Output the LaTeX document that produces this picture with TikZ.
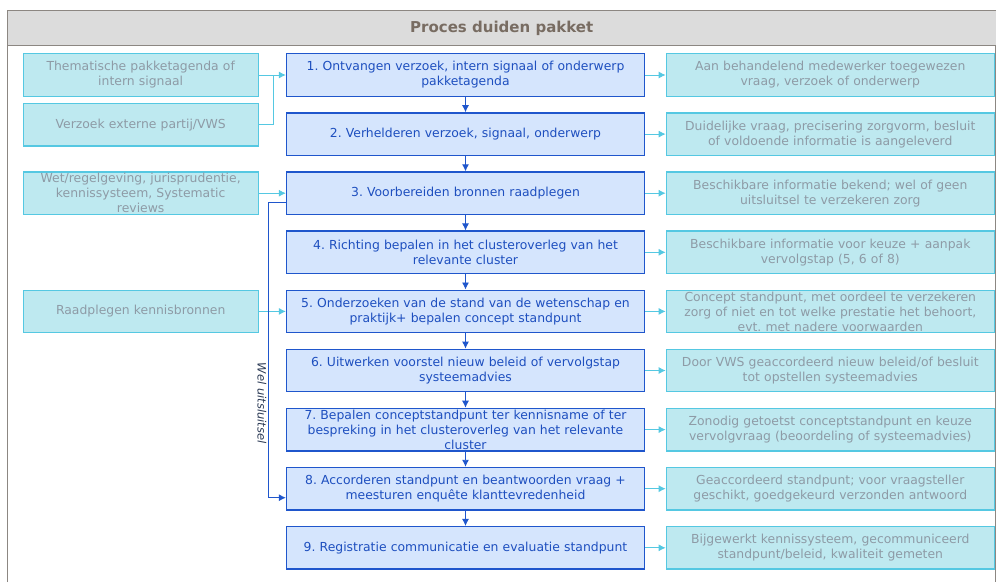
\documentclass[tikz,border=0pt]{standalone}
\usepackage{fontspec}
\setmainfont{DejaVu Sans}
\usetikzlibrary{arrows.meta,positioning}
\frenchspacing

\definecolor{stepfill}{HTML}{D5E5FD}
\definecolor{stepdraw}{HTML}{1F56CC}
\definecolor{steptext}{HTML}{1E4FBF}
\definecolor{infofill}{HTML}{BEE9F0}
\definecolor{infodraw}{HTML}{55C8E2}
\definecolor{infotext}{HTML}{8E9BA6}
\definecolor{barfill}{HTML}{DCDCDC}
\definecolor{bartext}{HTML}{786C62}
\definecolor{framegray}{HTML}{8C8782}
\definecolor{notetext}{HTML}{2B3A55}

\begin{document}
\begin{tikzpicture}[x=1pt, y=1pt, node distance=15.3pt, font=\fontsize{12.4}{15}\selectfont,
stage/.style={rectangle, draw=stepdraw, line width=1.3pt, fill=stepfill, text=steptext, minimum width=358pt, minimum height=42.5pt, inner ysep=0pt, text width=348pt, align=center},
source/.style={rectangle, draw=infodraw, line width=1.3pt, fill=infofill, text=infotext, minimum width=235pt, minimum height=42.5pt, inner ysep=0pt, text width=225pt, align=center},
result/.style={source, minimum width=328pt, text width=318pt},
line/.style={draw=stepdraw, line width=0.9pt, -{Latex[length=7pt,width=7pt]}},
feed/.style={draw=infodraw, line width=0.9pt, -{Latex[length=7pt,width=7pt]}}]

\useasboundingbox (0,0) rectangle (996,-582);

% Frame and title
\draw[framegray, line width=1pt] (7,-582) -- (7,-10) -- (995.5,-10) -- (995.5,-582);
\node[draw=framegray, line width=1pt, fill=barfill, text=bartext, anchor=north west, minimum width=988.5pt, minimum height=35pt, font=\fontsize{15}{18}\selectfont\bfseries] (title) at (7,-10) {Proces duiden pakket};

% Steps
\node[stage] (s1) at (465.5,-75) {1. Ontvangen verzoek, intern signaal of onderwerp\\pakketagenda};
\node[stage, below=of s1] (s2) {2. Verhelderen verzoek, signaal, onderwerp};
\node[stage, below=of s2] (s3) {3. Voorbereiden bronnen raadplegen};
\node[stage, below=of s3] (s4) {4. Richting bepalen in het clusteroverleg van het\\relevante cluster};
\node[stage, below=of s4] (s5) {5. Onderzoeken van de stand van de wetenschap en\\praktijk+ bepalen concept standpunt};
\node[stage, below=of s5] (s6) {6. Uitwerken voorstel nieuw beleid of vervolgstap\\systeemadvies};
\node[stage, below=of s6] (s7) {7. Bepalen conceptstandpunt ter kennisname of ter\\bespreking in het clusteroverleg van het relevante\\cluster};
\node[stage, below=of s7] (s8) {8. Accorderen standpunt en beantwoorden vraag +\\meesturen enquête klanttevredenheid};
\node[stage, below=of s8] (s9) {9. Registratie communicatie en evaluatie standpunt};

% Results
\node[result, right=20.5pt of s1] (r1) {Aan behandelend medewerker toegewezen\\vraag, verzoek of onderwerp};
\node[result, right=20.5pt of s2] (r2) {Duidelijke vraag, precisering zorgvorm, besluit\\of voldoende informatie is aangeleverd};
\node[result, right=20.5pt of s3] (r3) {Beschikbare informatie bekend; wel of geen\\uitsluitsel te verzekeren zorg};
\node[result, right=20.5pt of s4] (r4) {Beschikbare informatie voor keuze + aanpak\\vervolgstap (5, 6 of 8)};
\node[result, right=20.5pt of s5] (r5) {Concept standpunt, met oordeel te verzekeren\\zorg of niet en tot welke prestatie het behoort,\\evt. met nadere voorwaarden};
\node[result, right=20.5pt of s6] (r6) {Door VWS geaccordeerd nieuw beleid/of besluit\\tot opstellen systeemadvies};
\node[result, right=20.5pt of s7] (r7) {Zonodig getoetst conceptstandpunt en keuze\\vervolgvraag (beoordeling of systeemadvies)};
\node[result, right=20.5pt of s8] (r8) {Geaccordeerd standpunt; voor vraagsteller\\geschikt, goedgekeurd verzonden antwoord};
\node[result, right=20.5pt of s9] (r9) {Bijgewerkt kennissysteem, gecommuniceerd\\standpunt/beleid, kwaliteit gemeten};

% Sources
\node[source, left=27pt of s1] (i1) {Thematische pakketagenda of\\intern signaal};
\node[source, below=6pt of i1] (i2) {Verzoek externe partij/VWS};
\node[source, left=27pt of s3] (i3) {Wet/regelgeving, jurisprudentie,\\kennissysteem, Systematic\\reviews};
\node[source, left=27pt of s5] (i4) {Raadplegen kennisbronnen};

% Paths
\foreach \a/\b in {1/2,2/3,3/4,4/5,5/6,6/7,7/8,8/9}
  \path[line] (s\a) -- (s\b);
\foreach \n in {1,...,9}
  \path[feed] (s\n) -- (r\n);

\draw[infodraw, line width=0.9pt] (i1.east) -- ++(15pt,0) coordinate (join);
\path[feed] (i2.east) -| (join) -- (s1.west);
\path[feed] (i3) -- (s3);
\path[feed] (i4) -- (s5);

% Wel uitsluitsel loop
\path[line] ([yshift=-9pt]s3.west) -- ++(-17pt,0) |- ([yshift=-9pt]s8.west)
  node[pos=0.34, rotate=-90, anchor=north, inner sep=2pt, text=notetext, font=\fontsize{11.5}{13}\selectfont\itshape] {Wel uitsluitsel};
\end{tikzpicture}
\end{document}
